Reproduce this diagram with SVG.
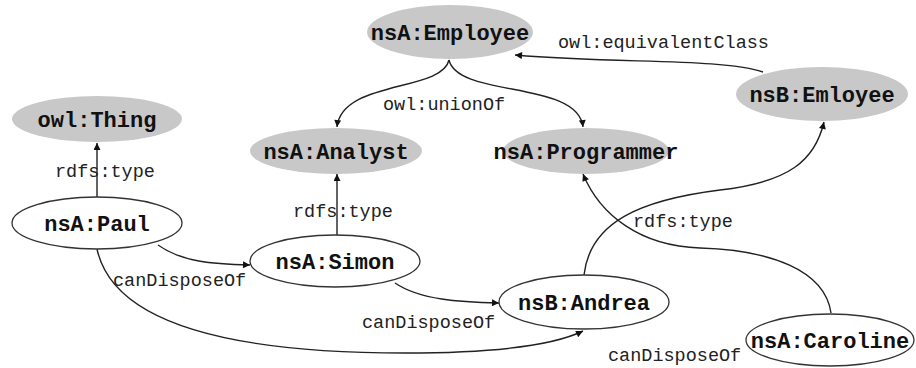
<svg xmlns="http://www.w3.org/2000/svg" width="916" height="368" viewBox="0 0 916 368">
  <defs>
    <marker id="arrow" viewBox="0 0 10 10" refX="10" refY="5" markerWidth="9" markerHeight="7" markerUnits="userSpaceOnUse" orient="auto">
      <path d="M0,0 L10,5 L0,10 z" fill="#111"/>
    </marker>
  </defs>
  <style>
    .cls ellipse { fill: #c8c8c8; stroke: none; }
    .ind ellipse { fill: #ffffff; stroke: #333; stroke-width: 1.3; }
    .node text { font-family: "Liberation Mono", "Courier New", monospace; font-weight: bold; font-size: 22px; text-anchor: middle; fill: #111; }
    .edges path { fill: none; stroke: #222; stroke-width: 1.4; marker-end: url(#arrow); }
    .lbl { font-family: "Liberation Mono", "Courier New", monospace; font-size: 18.5px; fill: #222; }
  </style>
  <rect width="916" height="368" fill="#ffffff"/>

  <g class="edges">
    <path d="M97 197 L97 143"/>
    <path d="M337 235 L337 174"/>
    <path d="M449 60 C442 92 342 80 337 127"/>
    <path d="M449 60 C458 98 578 80 583 127"/>
    <path d="M763 72 C720 58 620 64 515 55"/>
    <path d="M158 245 C182 262 212 264 250 265"/>
    <path d="M97 249 C115 332 255 353 405 353 C490 353 552 346 583 331"/>
    <path d="M395 283 C420 300 460 302 499 303"/>
    <path d="M584 275 C590 222 640 200 720 190 C790 182 815 160 824 122"/>
    <path d="M831 313 C825 270 770 250 700 248 C640 246 600 215 583 174"/>
    <text class="lbl" x="558" y="48">owl:equivalentClass</text>
    <text class="lbl" x="383" y="110">owl:unionOf</text>
    <text class="lbl" x="55" y="177">rdfs:type</text>
    <text class="lbl" x="293" y="217">rdfs:type</text>
    <text class="lbl" x="633" y="227">rdfs:type</text>
    <text class="lbl" x="113" y="286">canDisposeOf</text>
    <text class="lbl" x="362" y="328">canDisposeOf</text>
    <text class="lbl" x="608" y="361">canDisposeOf</text>
  </g>

  <g id="nsA-Employee" class="node cls">
    <ellipse cx="450" cy="32" rx="83" ry="27"/>
    <text x="450" y="40">nsA:Employee</text>
  </g>
  <g id="owl-Thing" class="node cls">
    <ellipse cx="97" cy="119" rx="85" ry="23"/>
    <text x="97" y="127">owl:Thing</text>
  </g>
  <g id="nsA-Analyst" class="node cls">
    <ellipse cx="336" cy="151" rx="86" ry="23"/>
    <text x="336" y="159">nsA:Analyst</text>
  </g>
  <g id="nsA-Programmer" class="node cls">
    <ellipse cx="586" cy="151" rx="83" ry="23"/>
    <text x="586" y="159">nsA:Programmer</text>
  </g>
  <g id="nsB-Emloyee" class="node cls">
    <ellipse cx="822" cy="94" rx="86" ry="27"/>
    <text x="822" y="102">nsB:Emloyee</text>
  </g>
  <g id="nsA-Paul" class="node ind">
    <ellipse cx="97" cy="223" rx="85" ry="26"/>
    <text x="97" y="231">nsA:Paul</text>
  </g>
  <g id="nsA-Simon" class="node ind">
    <ellipse cx="335" cy="261" rx="85" ry="26"/>
    <text x="335" y="269">nsA:Simon</text>
  </g>
  <g id="nsB-Andrea" class="node ind">
    <ellipse cx="584" cy="302" rx="85" ry="27"/>
    <text x="584" y="310">nsB:Andrea</text>
  </g>
  <g id="nsA-Caroline" class="node ind">
    <ellipse cx="830" cy="340" rx="84" ry="26"/>
    <text x="830" y="348">nsA:Caroline</text>
  </g>
</svg>
